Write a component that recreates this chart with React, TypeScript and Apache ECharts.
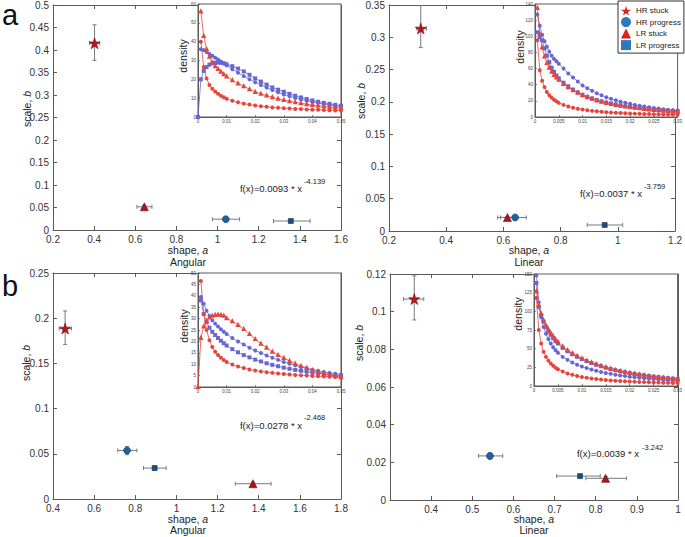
import React, { useEffect, useRef } from 'react';
import * as echarts from 'echarts';

// ---------- categories ----------
const CATS = ['HR stuck', 'HR progress', 'LR stuck', 'LR progress'];

// ---------- main panels: [HR stuck, HR progress, LR stuck, LR progress] ----------
// a, Angular
const angA_x = [0.402, 1.04, 0.644, 1.356];
const angA_y = [0.415, 0.024, 0.0515, 0.02];
const angA_xLo = [0.378, 0.975, 0.608, 1.272];
const angA_xHi = [0.427, 1.107, 0.681, 1.45];
const angA_yLo = [0.377, 0.021, 0.048, 0.018];
const angA_yHi = [0.456, 0.027, 0.055, 0.022];
// a, Linear
const linA_x = [0.311, 0.641, 0.614, 0.954];
const linA_y = [0.3135, 0.021, 0.021, 0.0093];
const linA_xLo = [0.297, 0.58, 0.59, 0.893];
const linA_xHi = [0.331, 0.68, 0.64, 1.017];
const linA_yLo = [0.284, 0.019, 0.0195, 0.008];
const linA_yHi = [0.349, 0.023, 0.0225, 0.0106];
// b, Angular
const angB_x = [0.459, 0.76, 1.372, 0.894];
const angB_y = [0.1886, 0.0537, 0.0169, 0.0342];
const angB_xLo = [0.43, 0.715, 1.286, 0.84];
const angB_xHi = [0.49, 0.808, 1.46, 0.95];
const angB_yLo = [0.171, 0.049, 0.0155, 0.032];
const angB_yHi = [0.208, 0.058, 0.0185, 0.0365];
// b, Linear
const linB_x = [0.359, 0.543, 0.824, 0.762];
const linB_y = [0.1067, 0.0234, 0.0115, 0.0127];
const linB_xLo = [0.333, 0.515, 0.776, 0.705];
const linB_xHi = [0.382, 0.574, 0.875, 0.811];
const linB_yLo = [0.0956, 0.0218, 0.0105, 0.0118];
const linB_yHi = [0.119, 0.025, 0.0125, 0.0136];

// axis ranges [min, max, interval]
const mainXRange = [[0.2, 1.6, 0.2], [0.2, 1.2, 0.2], [0.4, 1.8, 0.2], [0.3, 1.0, 0.1]];
const mainYRange = [[0, 0.5, 0.05], [0, 0.35, 0.05], [0, 0.25, 0.05], [0, 0.12, 0.02]];
const insetXRange = [[0, 0.05, 0.01], [0, 0.03, 0.005], [0, 0.05, 0.01], [0, 0.03, 0.005]];
const insetYRange = [[0, 60, 10], [0, 140, 20], [0, 50, 5], [0, 150, 25]];

// ---------- inset density curves ----------
const insetX5 = [0, 0.001, 0.002, 0.003, 0.004, 0.005, 0.006, 0.007, 0.008, 0.009, 0.01, 0.012, 0.014, 0.016, 0.018, 0.02, 0.022, 0.024, 0.026, 0.028, 0.03, 0.032, 0.034, 0.036, 0.038, 0.04, 0.042, 0.044, 0.046, 0.048, 0.05];
const insetX3 = [0.0005, 0.001, 0.0015, 0.002, 0.0025, 0.003, 0.0035, 0.004, 0.0045, 0.005, 0.006, 0.007, 0.008, 0.009, 0.01, 0.011, 0.012, 0.013, 0.014, 0.015, 0.016, 0.017, 0.018, 0.019, 0.02, 0.021, 0.022, 0.023, 0.024, 0.025, 0.026, 0.027, 0.028, 0.029, 0.03];

// a, Angular inset
const tlRed1 = [null, 56, 43, 36, 32, 29, 27, 25.5, 24, 22.7, 21.5, 19.5, 17.8, 16.3, 14.8, 13.3, 12.3, 11.4, 10.5, 9.7, 9, 8.4, 7.8, 7.3, 6.8, 6.4, 6, 5.7, 5.3, 5, 4.8];
const tlRed2 = [null, 40, 26.5, 20.5, 17, 15, 13.5, 12.3, 11.3, 10.5, 9.7, 8.6, 7.8, 7.1, 6.6, 6.1, 5.7, 5.4, 5.1, 4.9, 4.7, 4.5, 4.3, 4.2, 4, 3.9, 3.8, 3.7, 3.6, 3.5, 3.5];
const tlBlue1 = [null, 36, 35.5, 34.5, 33.5, 32.5, 31.5, 30.5, 29.5, 28.5, 27.5, 25.4, 23.5, 21.7, 20, 18.5, 17, 15.6, 14.3, 13.1, 12, 11, 10.1, 9.3, 8.6, 8, 7.4, 6.9, 6.4, 5.9, 5.5];
const tlBlue2 = [0, 20, 24.5, 26.5, 27.8, 28.5, 28.8, 28.9, 28.8, 28.5, 28, 27, 25.7, 24.2, 22.4, 20.5, 18.8, 17.2, 15.7, 14.5, 13.4, 12.3, 11.3, 10.4, 9.6, 8.8, 8.1, 7.5, 7, 6.5, 6];
// a, Linear inset
const trBlueA = [127, 113, 102, 94, 87, 81, 76, 72, 69, 66, 60, 54, 49, 44, 39, 35.5, 32.5, 29.5, 27, 24.5, 22.5, 20.7, 19, 17.6, 16.3, 15, 13.9, 12.9, 12, 11.2, 10.4, 9.7, 9.1, 8.5, 8];
const trRedA = [135, 103, 86, 75, 67, 61, 56, 52, 49, 46, 41, 37, 33, 30, 27, 24.5, 22.5, 20.5, 19, 17.5, 16.2, 15, 14, 13, 12.2, 11.4, 10.7, 10, 9.4, 8.8, 8.3, 7.8, 7.3, 6.9, 6.5];
const trBlueB = [105, 99, 95, 85, 76, 68, 61, 56, 51.5, 48, 42.5, 38, 34, 30.5, 27.5, 25, 23, 21, 19.4, 18, 16.7, 15.5, 14.4, 13.4, 12.6, 11.8, 11.1, 10.4, 9.8, 9.2, 8.7, 8.2, 7.7, 7.3, 6.9];
const trRedB = [95, 58, 45, 37, 31, 27, 24, 21.5, 19.5, 17.5, 15, 13, 11.5, 10.2, 9.2, 8.3, 7.6, 7, 6.5, 6, 5.6, 5.2, 4.9, 4.6, 4.4, 4.2, 4, 3.8, 3.6, 3.5, 3.3, 3.2, 3.1, 3, 2.9];
// b, Angular inset
const blRedRise = [0, 21.5, 26.5, 29, 30.5, 31.2, 31.6, 31.7, 31.6, 31.3, 30.2, 28.8, 27.2, 25.4, 23.2, 21, 19, 17.2, 15.5, 14, 12.7, 11.4, 10.2, 9.2, 8.3, 7.4, 6.6, 5.9, 5.3, 4.8, 4.3];
const blRedDec = [null, 46.5, 32, 25, 20.5, 17.5, 15.5, 14, 12.8, 11.8, 11, 9.9, 9, 8.3, 7.7, 7.2, 6.8, 6.5, 6.2, 5.9, 5.7, 5.5, 5.3, 5.1, 5, 4.8, 4.7, 4.6, 4.5, 4.4, 4.3];
const blBlueU = [null, 39.5, 36.5, 33.5, 31.2, 29.3, 27.8, 26.5, 25.3, 24.2, 23.2, 21.5, 20, 18.6, 17.2, 16, 14.9, 13.8, 12.8, 11.9, 11, 10.2, 9.5, 8.8, 8.2, 7.6, 7.1, 6.6, 6.2, 5.8, 5.5];
const blBlueL = [null, 38, 32, 28.5, 26, 24.2, 22.8, 21.5, 20.3, 19.2, 18.2, 16.6, 15.2, 14, 13, 12, 11.2, 10.4, 9.7, 9.1, 8.5, 8, 7.5, 7.1, 6.7, 6.3, 6, 5.7, 5.4, 5.2, 5];
// b, Linear inset
const brBlueA = [148, 112, 92, 79, 70, 63, 57, 52, 48, 44.5, 39, 35, 31.5, 28.5, 26, 24, 22, 20.3, 18.8, 17.5, 16.3, 15.2, 14.2, 13.3, 12.5, 11.7, 11, 10.4, 9.8, 9.2, 8.7, 8.2, 7.8, 7.4, 7];
const brRedA = [127, 108, 97, 88, 81, 76, 71, 66.5, 62.5, 59, 53, 48, 44, 40.2, 37, 34, 31.5, 29.2, 27, 25, 23.2, 21.6, 20.1, 18.7, 17.5, 16.4, 15.3, 14.3, 13.4, 12.5, 11.7, 11, 10.3, 9.6, 9];
const brBlueB = [138, 106, 95, 86, 79, 73.5, 68.5, 64, 60, 57, 51, 46.5, 42.5, 39, 36, 33.3, 30.8, 28.5, 26.4, 24.5, 22.8, 21.2, 19.8, 18.5, 17.3, 16.2, 15.2, 14.2, 13.3, 12.5, 11.8, 11.1, 10.4, 9.8, 9.2];
const brRedB = [118, 75, 57, 46, 39, 34, 30, 27, 24.5, 22.5, 19.3, 16.8, 15, 13.4, 12, 11, 10.1, 9.3, 8.6, 8, 7.5, 7, 6.6, 6.3, 6, 5.7, 5.4, 5.2, 5, 4.8, 4.6, 4.4, 4.2, 4.1, 4];

const fitTexts = [
  ['f(x)=0.0093 * x', '-4.139'],
  ['f(x)=0.0037 * x', '-3.759'],
  ['f(x)=0.0278 * x', '-2.468'],
  ['f(x)=0.0039 * x', '-3.242'],
];
const panelNames = ['Angular', 'Linear', 'Angular', 'Linear'];

// ---------- styling / layout ----------
const FONT = 'Liberation Sans, Arial, sans-serif';
const AX = '#5a5a5a';
const ERR = '#7a7a7a';
const RED = '#e6453c';
const BLUE = '#6767d4';
const STAR = 'path://M50,2 L61.8,38 L99.5,38 L69,60.5 L80.5,97 L50,74.5 L19.5,97 L31,60.5 L0.5,38 L38.2,38 Z';

const mainGrids = [
  { left: 53, top: 4, width: 288, height: 226 },
  { left: 389, top: 4, width: 290, height: 227 },
  { left: 53, top: 273, width: 288, height: 226 },
  { left: 390, top: 274, width: 288, height: 226 },
];
const insetGrids = [
  { left: 198, top: 4, width: 143, height: 113 },
  { left: 535, top: 4, width: 144, height: 113 },
  { left: 198, top: 273, width: 143, height: 114 },
  { left: 534, top: 274, width: 144, height: 112 },
];

const MARK = [
  { symbol: STAR, size: 11, color: '#b3171d', border: '#7a0e12' },
  { symbol: 'circle', size: 7, color: '#1f60a0', border: '#12406e' },
  { symbol: 'triangle', size: 8, color: '#a8161b', border: '#6e0d10' },
  { symbol: 'rect', size: 5, color: '#1d4d80', border: '#113355' },
];
const LEGEND_COL = ['#e0201b', '#2f78c0', '#e0201b', '#2f78c0'];

function errRender(params: any, api: any) {
  const x = api.value(0);
  const y = api.value(1);
  const a = api.coord([api.value(2), y]);
  const b = api.coord([api.value(3), y]);
  const c = api.coord([x, api.value(4)]);
  const d = api.coord([x, api.value(5)]);
  const k = 2;
  const style = { stroke: ERR, lineWidth: 1 };
  const ln = (x1: number, y1: number, x2: number, y2: number) => ({ type: 'line', shape: { x1, y1, x2, y2 }, style });
  return {
    type: 'group',
    children: [
      ln(a[0], a[1], b[0], b[1]),
      ln(a[0], a[1] - k, a[0], a[1] + k),
      ln(b[0], b[1] - k, b[0], b[1] + k),
      ln(c[0], c[1], d[0], d[1]),
      ln(c[0] - k, c[1], c[0] + k, c[1]),
      ln(d[0] - k, d[1], d[0] + k, d[1]),
    ],
  };
}

function buildOption() {
  const panels = [
    [angA_x, angA_y, angA_xLo, angA_xHi, angA_yLo, angA_yHi],
    [linA_x, linA_y, linA_xLo, linA_xHi, linA_yLo, linA_yHi],
    [angB_x, angB_y, angB_xLo, angB_xHi, angB_yLo, angB_yHi],
    [linB_x, linB_y, linB_xLo, linB_xHi, linB_yLo, linB_yHi],
  ];
  const insets = [
    { xs: insetX5, curves: [[tlBlue1, BLUE, 'emptyCircle'], [tlBlue2, BLUE, 'emptyRect'], [tlRed1, RED, 'emptyTriangle'], [tlRed2, RED, 'emptyCircle']] },
    { xs: insetX3, curves: [[trBlueA, BLUE, 'emptyCircle'], [trBlueB, BLUE, 'emptyRect'], [trRedA, RED, 'emptyTriangle'], [trRedB, RED, 'emptyCircle']] },
    { xs: insetX5, curves: [[blBlueU, BLUE, 'emptyCircle'], [blBlueL, BLUE, 'emptyRect'], [blRedRise, RED, 'emptyTriangle'], [blRedDec, RED, 'emptyCircle']] },
    { xs: insetX3, curves: [[brBlueA, BLUE, 'emptyCircle'], [brBlueB, BLUE, 'emptyRect'], [brRedA, RED, 'emptyTriangle'], [brRedB, RED, 'emptyCircle']] },
  ];

  const grid: any[] = [];
  mainGrids.forEach((g) => grid.push({ ...g, show: false, containLabel: false }));
  insetGrids.forEach((g) => grid.push({ ...g, show: true, backgroundColor: '#fff', borderColor: AX, borderWidth: 1, z: 1, containLabel: false }));

  const xAxis: any[] = [];
  const yAxis: any[] = [];
  const mainAx = (p: number, r: number[], position: string, labels: boolean) => ({
    type: 'value', gridIndex: p, position, min: r[0], max: r[1], interval: r[2],
    axisLine: { show: true, onZero: false, lineStyle: { color: AX, width: 1 } },
    axisTick: { show: true, inside: true, length: 4, lineStyle: { color: AX, width: 1 } },
    axisLabel: { show: labels, fontSize: 10, color: '#333', fontFamily: FONT, margin: 4, showMinLabel: !(p === 3 && position === 'bottom') },
    splitLine: { show: false },
  });
  mainXRange.forEach((r, p) => xAxis.push(mainAx(p, r, 'bottom', true)));
  mainXRange.forEach((r, p) => xAxis.push(mainAx(p, r, 'top', false)));
  mainYRange.forEach((r, p) => yAxis.push(mainAx(p, r, 'left', true)));
  mainYRange.forEach((r, p) => yAxis.push(mainAx(p, r, 'right', false)));
  const insetAx = (k: number, r: number[], position: string) => ({
    type: 'value', gridIndex: 4 + k, position, min: r[0], max: r[1], interval: r[2], z: 3,
    axisLine: { show: true, onZero: false, lineStyle: { color: AX, width: 1 } },
    axisTick: { show: true, inside: true, length: 2, lineStyle: { color: AX, width: 0.7 } },
    axisLabel: { fontSize: 4.5, color: '#444', fontFamily: FONT, margin: 2 },
    splitLine: { show: false },
  });
  insetXRange.forEach((r, k) => xAxis.push(insetAx(k, r, 'bottom')));
  insetYRange.forEach((r, k) => yAxis.push(insetAx(k, r, 'left')));

  const series: any[] = [];
  panels.forEach((pd, p) => {
    const [xs, ys, xl, xh, yl, yh] = pd;
    series.push({
      type: 'custom', xAxisIndex: p, yAxisIndex: p, z: 3, silent: true,
      renderItem: errRender,
      encode: { x: 0, y: 1 },
      data: xs.map((x, i) => [x, ys[i], xl[i], xh[i], yl[i], yh[i]]),
    });
    CATS.forEach((name, i) => {
      const m = MARK[i];
      series.push({
        type: 'scatter', name, xAxisIndex: p, yAxisIndex: p, z: 5,
        symbol: m.symbol, symbolSize: m.size,
        itemStyle: { color: m.color, borderColor: m.border, borderWidth: 0.6, opacity: 1 },
        data: [[xs[i], ys[i]]],
      });
    });
  });
  insets.forEach((ins, k) => {
    ins.curves.forEach((cv: any) => {
      const [vals, color, sym] = cv;
      series.push({
        type: 'line', xAxisIndex: 8 + k, yAxisIndex: 8 + k, z: 4, silent: true,
        symbol: sym, symbolSize: 2, showSymbol: true,
        lineStyle: { color, width: 0.8 },
        itemStyle: { color, borderWidth: 0.5 },
        data: ins.xs.map((x: number, i: number) => [x, vals[i]]),
      });
    });
  });

  const T = (text: string, x: number, y: number, size: number, extra: any = {}) => ({
    type: 'text', x, y, z: 10, silent: true,
    style: { text, fontSize: size, fontFamily: FONT, fill: '#222', align: 'center', verticalAlign: 'middle', ...extra },
  });
  const richName = (a: string, b: string) => ({
    text: `{n|${a}}{i|${b}}`,
    rich: { n: { fontSize: 10.5, fontFamily: FONT, fill: '#222' }, i: { fontSize: 10.5, fontFamily: FONT, fontStyle: 'italic', fill: '#222' } },
  });

  const xNamePos = [[188, 250, 262], [529, 250, 262], [188, 519, 530], [534, 519, 530]];
  const yNamePos = [[27, 109], [361, 101], [26, 363], [359, 343]];
  const densPos = [[183, 56], [520, 47], [184, 326], [518, 314]];
  const fitPos = [[302, 188, 304, 181], [642, 193, 644, 186], [302, 425, 304, 417], [639, 453, 642, 447]];

  const graphic: any[] = [
    T('a', 2, 15, 29, { align: 'left', fill: '#111' }),
    T('b', 2, 286, 29, { align: 'left', fill: '#111' }),
  ];
  for (let p = 0; p < 4; p++) {
    const [nx, ny, ay] = xNamePos[p];
    graphic.push({ type: 'text', x: nx, y: ny, z: 10, silent: true, style: { ...richName('shape, ', 'a'), align: 'center', verticalAlign: 'middle' } });
    graphic.push(T(panelNames[p], nx, ay, 10.5));
    const [yx, yy] = yNamePos[p];
    graphic.push({ type: 'text', x: yx, y: yy, rotation: Math.PI / 2, z: 10, silent: true, style: { ...richName('scale, ', 'b'), align: 'center', verticalAlign: 'middle' } });
    const [dx, dy] = densPos[p];
    graphic.push({ type: 'text', x: dx, y: dy, rotation: Math.PI / 2, z: 10, silent: true, style: { text: 'density', fontSize: 10.5, fontFamily: FONT, fill: '#222', align: 'center', verticalAlign: 'middle' } });
    const [fx, fy, sx, sy] = fitPos[p];
    graphic.push(T(fitTexts[p][0], fx, fy, 9.5, { align: 'right' }));
    graphic.push(T(fitTexts[p][1], sx, sy, 7.5, { align: 'left' }));
  }

  return {
    animation: false,
    backgroundColor: '#fff',
    grid, xAxis, yAxis, series, graphic,
    legend: {
      left: 618, top: 1, orient: 'vertical', selectedMode: false,
      itemWidth: 10, itemHeight: 10, itemGap: 1.5,
      padding: [5, 3, 3, 3],
      backgroundColor: '#fff', borderColor: '#333', borderWidth: 1,
      textStyle: { fontSize: 8, fontFamily: FONT, color: '#222' },
      data: CATS.map((name, i) => ({
        name,
        icon: MARK[i].symbol,
        itemStyle: { color: LEGEND_COL[i], borderWidth: 0 },
      })),
    },
  };
}

export default function App() {
  const ref = useRef<HTMLDivElement>(null);
  useEffect(() => {
    const chart = echarts.init(ref.current!, null, { renderer: 'svg' });
    chart.setOption(buildOption() as any);
    return () => chart.dispose();
  }, []);
  return <div ref={ref} style={{ width: 685, height: 537, position: 'absolute', left: 0, top: 0 }} />;
}
